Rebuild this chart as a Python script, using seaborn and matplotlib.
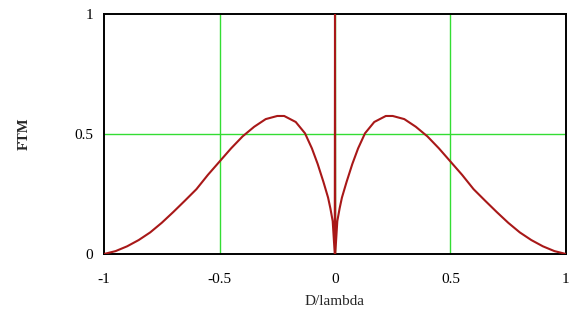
import matplotlib
matplotlib.use("Agg")
import matplotlib.pyplot as plt
import seaborn as sns
import pandas as pd

# Transfer function sampled along D/lambda (value 1 at the origin)
d_lambda = [-1.0, -0.95, -0.9, -0.85, -0.8, -0.75, -0.7, -0.65, -0.6, -0.55,
            -0.5, -0.45, -0.4, -0.35, -0.3, -0.25, -0.22, -0.17, -0.13, -0.1,
            -0.075, -0.05, -0.03, -0.02, -0.01, -0.001, 0.0, 0.001, 0.01, 0.02,
            0.03, 0.05, 0.075, 0.1, 0.13, 0.17, 0.22, 0.25, 0.3, 0.35,
            0.4, 0.45, 0.5, 0.55, 0.6, 0.65, 0.7, 0.75, 0.8, 0.85,
            0.9, 0.95, 1.0]
ftm = [0.0, 0.012, 0.032, 0.058, 0.09, 0.13, 0.175, 0.222, 0.27, 0.33,
       0.385, 0.44, 0.49, 0.53, 0.562, 0.575, 0.575, 0.55, 0.503, 0.44,
       0.375, 0.30, 0.235, 0.19, 0.137, 0.0, 1.0, 0.0, 0.137, 0.19,
       0.235, 0.30, 0.375, 0.44, 0.503, 0.55, 0.575, 0.575, 0.562, 0.53,
       0.49, 0.44, 0.385, 0.33, 0.27, 0.222, 0.175, 0.13, 0.09, 0.058,
       0.032, 0.012, 0.0]

x_ticks = [-1, -0.5, 0, 0.5, 1]
x_tick_labels = ["-1", "-0.5", "0", "0.5", "1"]
y_ticks = [0, 0.5, 1]
y_tick_labels = ["0", "0.5", "1"]
x_grid = [-0.5, 0, 0.5]
y_grid = [0.5]

sns.set_theme(style="white")
plt.rcParams["font.family"] = ["Liberation Serif", "DejaVu Serif"]

df = pd.DataFrame({"D/lambda": d_lambda, "FTM": ftm})

fig = plt.figure(figsize=(5.76, 3.25), dpi=100)
ax = fig.add_axes([0.1806, 0.2185, 0.802, 0.7385])

for gx in x_grid:
    ax.axvline(gx, color="#33dd33", lw=1.0, zorder=1)
for gy in y_grid:
    ax.axhline(gy, color="#33dd33", lw=1.0, zorder=1)

sns.lineplot(data=df, x="D/lambda", y="FTM", ax=ax, sort=False,
             estimator=None, color="#a81818", lw=1.5, zorder=3)

ax.set_xlim(-1, 1)
ax.set_ylim(0, 1)
ax.set_xticks(x_ticks)
ax.set_xticklabels(x_tick_labels)
ax.set_yticks(y_ticks)
ax.set_yticklabels(y_tick_labels)
ax.tick_params(axis="x", length=0, pad=14, labelsize=11, colors="black")
ax.tick_params(axis="y", length=0, pad=8, labelsize=11, colors="black")

for side in ["left", "right", "top", "bottom"]:
    ax.spines[side].set_visible(True)
    ax.spines[side].set_color("black")
    ax.spines[side].set_linewidth(1.4)

ax.set_xlabel("D/lambda", fontsize=11, labelpad=6)
ax.set_ylabel("FTM", fontsize=10.5, fontweight="bold", labelpad=31)

fig.savefig("out.png", dpi=100, facecolor="white")
